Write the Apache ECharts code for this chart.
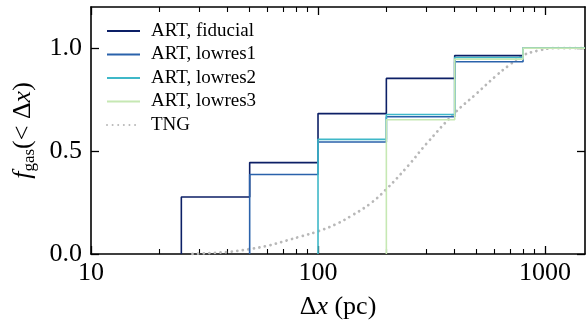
<!DOCTYPE html>
<html>
<head>
<meta charset="utf-8">
<script src="https://cdn.jsdelivr.net/npm/echarts@6/dist/echarts.min.js"></script>
<style>
  html, body { margin: 0; padding: 0; background: #fff; }
  #chart { width: 586px; height: 326px; }
</style>
</head>
<body>
<div id="chart"></div>
<script>
// Cell-size bin edges (pc); the last edge closes the final bin at the axis end.
const binEdges = [25, 50, 100, 200, 400, 800, 1500];

// Cumulative gas fraction per bin, starting at the first populated bin.
const fiducial = [0.277, 0.444, 0.682, 0.853, 0.964, 1.0];
const lowres1 = [0.386, 0.544, 0.667, 0.934, 1.0];
const lowres2 = [0.557, 0.678, 0.955, 1.0];
const lowres3 = [0.652, 0.947, 1.0];

// TNG cumulative curve (cell size in pc, fraction).
const tngX = [28, 31, 40, 50, 60, 73, 85, 100, 120, 140, 170, 200, 250, 300, 400, 500, 600, 700, 800, 950, 1100, 1500];
const tngY = [0.0, 0.003, 0.01, 0.024, 0.04, 0.066, 0.087, 0.11, 0.145, 0.185, 0.245, 0.315, 0.43, 0.535, 0.685, 0.78, 0.86, 0.92, 0.965, 0.99, 1.0, 1.0];

const xMajor = [10, 100, 1000];
const xMinor = [20, 30, 40, 50, 60, 70, 80, 90, 200, 300, 400, 500, 600, 700, 800, 900];
const yTicks = [0, 0.5, 1.0];
const yTickLabels = ['0.0', '0.5', '1.0'];

const seriesNames = ['ART, fiducial', 'ART, lowres1', 'ART, lowres2', 'ART, lowres3', 'TNG'];
const seriesColors = ['#0c1f66', '#2a62ab', '#3fb8c8', '#c6e8b3', '#b8b8b8'];

// Turn a cumulative histogram into a stepped outline that rises from zero
// at its first populated edge.
function stepOutline(values) {
  const start = binEdges.length - 1 - values.length;
  const pts = [];
  let prev = 0;
  values.forEach((v, i) => {
    const e = binEdges[start + i];
    pts.push([e, prev]);
    pts.push([e, v]);
    prev = v;
  });
  pts.push([binEdges[binEdges.length - 1], prev]);
  return pts;
}

const SERIF = '"Liberation Serif", "DejaVu Serif", serif';
const black = '#000';

const gridBox = { left: 91, right: 1, top: 7, bottom: 72 };

const majorX = (pos, labels) => ({
  type: 'log', gridIndex: 0, position: pos, min: 10, max: 1500, logBase: 10,
  axisLine: { show: true, onZero: false, lineStyle: { color: black, width: 1.6 } },
  axisTick: { show: true, inside: true, length: 8, customValues: xMajor, lineStyle: { color: black, width: 1.3 } },
  axisLabel: labels ? {
    show: true, customValues: xMajor, margin: 6, color: black,
    fontFamily: SERIF, fontSize: 26, formatter: v => String(Math.round(v))
  } : { show: false },
  splitLine: { show: false },
  minorTick: { show: false },
  name: labels ? '{g|Δ}{i|x}{g| (pc)}' : '',
  nameLocation: 'middle',
  nameGap: 40,
  nameTextStyle: {
    color: black,
    rich: {
      g: { fontFamily: SERIF, fontSize: 26, color: black },
      i: { fontFamily: SERIF, fontSize: 26, fontStyle: 'italic', color: black }
    }
  }
});

const minorX = (pos) => ({
  type: 'log', gridIndex: 1, position: pos, min: 10, max: 1500, logBase: 10,
  axisLine: { show: false },
  axisTick: { show: true, inside: true, length: 5, customValues: xMinor, lineStyle: { color: black, width: 1.1 } },
  axisLabel: { show: false },
  splitLine: { show: false }
});

const yAxisDef = (pos, labels) => ({
  type: 'value', gridIndex: 0, position: pos, min: 0, max: 1.2,
  axisLine: { show: true, onZero: false, lineStyle: { color: black, width: 1.6 } },
  axisTick: { show: true, inside: true, length: 8, customValues: yTicks, lineStyle: { color: black, width: 1.3 } },
  axisLabel: labels ? {
    show: true, customValues: yTicks, margin: 9, color: black,
    fontFamily: SERIF, fontSize: 26,
    formatter: v => yTickLabels[yTicks.indexOf(v)] ?? v.toFixed(1)
  } : { show: false },
  splitLine: { show: false },
  name: labels ? '{i|f}{s|gas}{g|(< Δ}{i|x}{g|)}' : '',
  nameLocation: 'middle',
  nameRotate: 90,
  nameGap: 53,
  nameTextStyle: {
    color: black,
    rich: {
      g: { fontFamily: SERIF, fontSize: 26, lineHeight: 30, color: black },
      i: { fontFamily: SERIF, fontSize: 26, lineHeight: 30, fontStyle: 'italic', color: black },
      s: { fontFamily: SERIF, fontSize: 17, lineHeight: 14, verticalAlign: 'bottom', color: black }
    }
  }
});

const artSets = [fiducial, lowres1, lowres2, lowres3];

const series = artSets.map((vals, i) => ({
  name: seriesNames[i],
  type: 'line',
  xAxisIndex: 0,
  yAxisIndex: 0,
  data: stepOutline(vals),
  symbol: 'none',
  showSymbol: false,
  lineStyle: { color: seriesColors[i], width: 1.6 },
  itemStyle: { color: seriesColors[i] },
  animation: false,
  z: 3
}));

series.push({
  name: seriesNames[4],
  type: 'line',
  xAxisIndex: 0,
  yAxisIndex: 0,
  data: tngX.map((x, i) => [x, tngY[i]]),
  smooth: 0.4,
  symbol: 'none',
  showSymbol: false,
  lineStyle: { color: seriesColors[4], width: 2.8, type: [0.01, 5.6], cap: 'round' },
  itemStyle: { color: seriesColors[4] },
  animation: false,
  z: 2
});

const chart = echarts.init(document.getElementById('chart'), null, { renderer: 'canvas' });
chart.setOption({
  backgroundColor: '#fff',
  animation: false,
  grid: [
    Object.assign({}, gridBox),
    Object.assign({}, gridBox)
  ],
  xAxis: [majorX('bottom', true), majorX('top', false), minorX('bottom'), minorX('top')],
  yAxis: [
    yAxisDef('left', true),
    yAxisDef('right', false),
    { type: 'value', gridIndex: 1, min: 0, max: 1.2, show: false }
  ],
  legend: {
    data: seriesNames,
    orient: 'vertical',
    left: 101,
    top: 16,
    itemWidth: 33,
    itemHeight: 12,
    itemGap: 3.5,
    itemStyle: { opacity: 0 },
    textStyle: {
      fontFamily: SERIF, fontSize: 19, lineHeight: 20, color: black,
      padding: [0, 0, 0, 6]
    },
    selectedMode: false
  },
  series: series
});
</script>
</body>
</html>
